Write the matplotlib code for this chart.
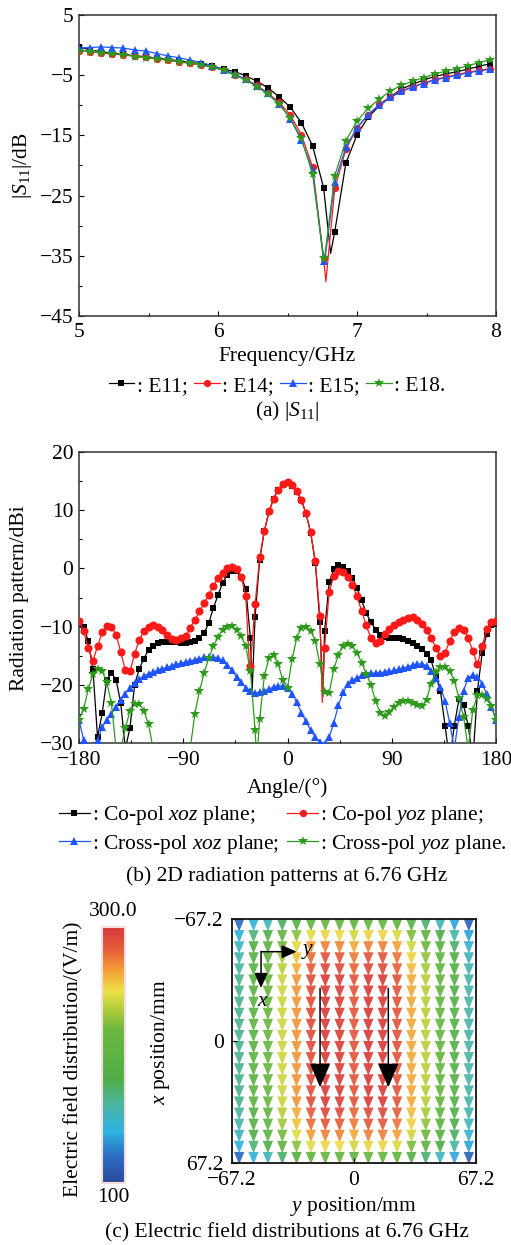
import numpy as np
import matplotlib
matplotlib.use("Agg")
import matplotlib.pyplot as plt
from matplotlib.lines import Line2D
from matplotlib.collections import PolyCollection
from matplotlib.colors import LinearSegmentedColormap, Normalize
from matplotlib.ticker import MultipleLocator

plt.rcParams['font.family'] = ['Liberation Serif', 'DejaVu Serif']
plt.rcParams['mathtext.fontset'] = 'custom'
plt.rcParams['mathtext.rm'] = 'Liberation Serif'
plt.rcParams['mathtext.it'] = 'Liberation Serif:italic'
plt.rcParams['font.size'] = 15.5

# ---- (a) |S11| data, markers every 0.08 GHz ----
freq = np.round(5.0 + 0.08 * np.arange(38), 2)
s11_e11 = [-0.3, -0.8, -1.1, -1.4, -1.5, -1.8, -1.9, -2.2, -2.4, -2.6,
           -2.9, -3.1, -3.5, -4.0, -4.4, -5.1, -6.0, -7.1, -8.6, -10.3,
           -12.9, -16.7, -23.7, -31.0, -19.6, -14.9, -12.0, -10.1, -8.6, -7.3,
           -6.5, -5.8, -5.2, -4.8, -4.4, -4.0, -3.5, -3.1]
s11_e14 = [-0.9, -1.1, -1.3, -1.5, -1.6, -1.8, -2.0, -2.3, -2.5, -2.8,
           -3.0, -3.3, -3.6, -4.2, -4.9, -5.7, -6.7, -8.0, -9.5, -11.6,
           -14.9, -20.2, -35.4, -23.8, -17.3, -13.8, -11.6, -9.8, -8.6, -7.6,
           -6.9, -6.3, -5.7, -5.3, -4.9, -4.5, -4.2, -3.9]
s11_e15 = [-0.5, -0.4, -0.3, -0.4, -0.5, -0.8, -1.0, -1.4, -1.8, -2.1,
           -2.5, -2.9, -3.4, -4.1, -4.8, -5.7, -6.8, -8.0, -9.8, -12.2,
           -15.8, -20.7, -35.9, -22.7, -17.0, -13.7, -11.6, -10.0, -8.7, -7.7,
           -7.0, -6.4, -5.8, -5.4, -5.0, -4.6, -4.3, -4.0]
s11_e18 = [-0.9, -1.1, -1.3, -1.5, -1.6, -1.9, -2.1, -2.3, -2.5, -2.8,
           -3.0, -3.3, -3.7, -4.2, -5.0, -5.8, -6.9, -8.2, -9.8, -12.1,
           -15.5, -21.4, -35.3, -21.7, -15.9, -12.6, -10.5, -9.0, -7.6, -6.7,
           -6.0, -5.4, -4.8, -4.3, -3.9, -3.4, -2.9, -2.4]
# resonance minima of the continuous curves (between markers)
s11_dips = [(6.81, -34.6), (6.776, -39.3), (6.765, -36.4), (6.763, -36.0)]
s11_names = ['E11', 'E14', 'E15', 'E18']

# ---- (b) radiation patterns, markers every 4 deg ----
angle = np.arange(-180, 181, 4)
co_xoz = [-9.5, -10.0, -12.5, -17.3, -29.0, -24.9, -19.1, -18.0, -19.1, -23.1,
          -31.0, -27.4, -20.0, -17.3, -15.5, -14.0, -13.3, -12.9, -12.7, -12.6,
          -12.6, -12.7, -12.8, -12.8, -12.7, -12.5, -11.9, -11.1, -9.4, -6.8,
          -4.6, -2.5, -1.1, -0.5, -0.5, -1.4, -3.5, -12.0, -8.3, 1.5,
          6.4, 9.7, 12.0, 13.5, 14.4, 14.7, 14.2, 13.2, 11.7, 9.4,
          6.1, 1.0, -9.2, -10.7, -2.4, -0.1, 0.5, 0.3, -0.5, -1.6,
          -3.4, -5.5, -7.7, -9.2, -10.5, -11.4, -11.8, -11.9, -11.9, -12.0,
          -12.2, -12.5, -12.9, -13.3, -13.9, -14.7, -15.8, -18.5, -21.0, -27.0,
          -33.0, -27.0, -22.5, -23.5, -27.0, -33.0, -21.0, -14.6, -11.2, -9.8,
          -9.5]
co_yoz = [-9.1, -10.8, -13.7, -15.9, -13.4, -11.0, -9.9, -10.0, -11.4, -14.3,
          -17.5, -17.7, -14.7, -12.3, -10.8, -10.0, -9.7, -10.0, -10.5, -11.4,
          -12.1, -12.3, -11.9, -11.7, -10.2, -8.8, -7.4, -6.0, -4.5, -3.1,
          -1.6, -0.8, 0.0, 0.3, -0.1, -1.4, -4.8, -16.8, -6.2, 1.9,
          6.5, 9.8, 12.0, 13.5, 14.5, 14.8, 14.3, 13.3, 11.8, 9.5,
          6.2, 1.2, -8.1, -13.6, -4.0, -1.3, -0.4, -0.7, -1.4, -2.9,
          -4.8, -7.3, -9.8, -12.0, -12.9, -12.5, -11.3, -10.4, -9.7, -9.2,
          -8.8, -8.5, -8.4, -8.8, -9.5, -10.5, -11.9, -13.6, -15.0, -14.5,
          -12.5, -10.9, -10.2, -10.5, -12.0, -14.2, -16.5, -13.4, -10.4, -9.2,
          -9.1]
cross_xoz = [-26.0, -29.5, -32.0, -31.0, -29.5, -27.3, -26.0, -25.0, -23.8, -22.6,
             -21.5, -20.5, -19.7, -19.0, -18.5, -18.1, -17.8, -17.5, -17.2, -17.0,
             -16.7, -16.5, -16.3, -16.1, -15.9, -15.7, -15.5, -15.3, -15.2, -15.2,
             -15.4, -15.8, -16.6, -17.5, -18.6, -19.6, -20.5, -21.1, -21.4, -21.3,
             -21.0, -20.7, -20.4, -20.2, -20.2, -20.6, -21.5, -23.0, -24.8, -26.3,
             -27.8, -29.0, -29.8, -30.1, -29.0, -26.5, -23.5, -21.3, -19.9, -19.2,
             -18.8, -18.4, -18.2, -18.0, -18.0, -17.9, -17.8, -17.7, -17.5, -17.3,
             -17.1, -16.9, -16.6, -16.4, -16.4, -16.7, -17.6, -18.8, -20.3, -22.8,
             -26.5, -31.0, -25.5, -21.0, -18.8, -18.3, -18.6, -19.8, -21.6, -23.8,
             -26.0]
cross_yoz = [-26.0, -24.2, -20.7, -18.2, -17.3, -17.7, -19.5, -23.2, -31.0, -31.0,
             -27.5, -24.5, -23.3, -23.3, -24.5, -26.8, -31.0, -33.0, -35.0, -35.0,
             -35.0, -35.0, -34.0, -32.0, -31.0, -25.0, -21.1, -18.0, -15.4, -13.4,
             -11.8, -10.6, -10.0, -9.9, -10.6, -11.6, -13.4, -17.7, -27.8, -25.8,
             -18.5, -15.4, -14.9, -16.5, -19.2, -20.5, -15.6, -11.9, -10.2, -10.0,
             -10.7, -12.5, -16.5, -21.3, -21.4, -17.3, -14.8, -13.4, -13.0, -13.4,
             -14.5, -16.2, -18.1, -20.0, -22.8, -24.8, -25.4, -24.6, -23.8, -23.2,
             -22.8, -22.8, -23.1, -23.5, -23.7, -22.6, -19.8, -17.8, -17.0, -16.9,
             -17.6, -19.3, -22.3, -25.5, -31.0, -24.3, -21.8, -21.7, -22.5, -23.6,
             -26.0]
# nulls of the continuous curves (between markers)
pat_dips = [[(-30.5, -21.0), (30.5, -22.0)], [(-32.5, -18.0), (30.0, -23.0)],
            [], [(-26.5, -33.0)]]
pat_names = [': Co-pol $xoz$ plane;', ': Co-pol $yoz$ plane;',
             ': Cross-pol $xoz$ plane;', ': Cross-pol $yoz$ plane.']

# ---- (c) E-field magnitude (V/m), 17 columns (y) x 22 rows (x) ----
col_field = [165, 200, 215, 242, 268, 290, 298, 296, 286, 298, 298, 288, 264, 238, 212, 190, 160]
row_weight = [0.72, 0.85, 0.92, 0.96, 0.98, 1.0, 1.0, 1.0, 1.0, 1.0, 1.0,
              1.0, 1.0, 1.0, 1.0, 1.0, 1.0, 0.98, 0.96, 0.92, 0.85, 0.72]
field = np.clip(np.outer(row_weight, col_field), 100, 300)

colors = ['#000000', '#ff1a1a', '#1f55ff', '#2e9a1c']
markers = ['s', 'o', '^', '*']

W, H = 511, 1245
fig = plt.figure(figsize=(W / 100, H / 100), dpi=100)


def box(l, t, r, b):
    return [l / W, 1 - b / H, (r - l) / W, (b - t) / H]


def P(x, y):
    return (x / W, 1 - y / H)


def style_ax(ax):
    for s in ax.spines.values():
        s.set_linewidth(1.1)
        s.set_color('#333333')
    ax.tick_params(which='both', direction='in', top=False, right=False, width=0.8, pad=4)
    ax.tick_params(which='major', length=3.5)
    ax.tick_params(which='minor', length=2.5)


def with_dips(x, y, dips):
    xs = list(x) + [d[0] for d in dips]
    ys = list(y) + [d[1] for d in dips]
    order = np.argsort(xs, kind='stable')
    return np.array(xs)[order], np.array(ys)[order]


# ---------------- panel (a) ----------------
ax1 = fig.add_axes(box(79, 15, 496, 316))
ms_a = [5, 5.2, 5.6, 7.5]
handles = []
for i, ys in enumerate([s11_e11, s11_e14, s11_e15, s11_e18]):
    lx, ly = with_dips(freq, ys, [s11_dips[i]])
    ax1.plot(lx, ly, '-', color=colors[i], lw=0.9, zorder=2 + i)
    ax1.plot(freq, ys, ls='none', marker=markers[i], ms=ms_a[i], color=colors[i],
             mew=0, zorder=2 + i)
    handles.append(Line2D([], [], color=colors[i], lw=0.9, marker=markers[i],
                          ms=ms_a[i], mew=0))
ax1.set_xlim(5, 8)
ax1.set_ylim(-45, 5)
ax1.set_xticks([5, 6, 7, 8])
ax1.set_yticks([5, -5, -15, -25, -35, -45])
ax1.xaxis.set_minor_locator(MultipleLocator(0.5))
ax1.yaxis.set_minor_locator(MultipleLocator(5))
style_ax(ax1)
ax1.tick_params(axis='x', pad=5)
fig.text(*P(22, 166), '|$S_{11}$|/dB', rotation=90, ha='center', va='center')
fig.text(*P(287, 356), 'Frequency/GHz', ha='center', va='center')
fig.legend(handles, [': ' + n + ';' if k < 3 else ': ' + n + '.' for k, n in enumerate(s11_names)],
           ncol=4, loc='center', bbox_to_anchor=P(277, 386), frameon=False,
           handlelength=1.2, handletextpad=0.1, columnspacing=0.3,
           borderpad=0, fontsize=15.5)
fig.text(*P(287, 411), '(a) |$S_{11}$|', ha='center', va='center')

# ---------------- panel (b) ----------------
ax2 = fig.add_axes(box(79, 452, 496, 743))
ms_b = [5, 5.8, 5.8, 7.5]
series_b = [co_xoz, co_yoz, cross_xoz, cross_yoz]
handles_b = []
for i, ys in enumerate(series_b):
    lx, ly = with_dips(angle, ys, pat_dips[i])
    ax2.plot(lx, ly, '-', color=colors[i], lw=0.9, zorder=2 + i)
    ax2.plot(angle, ys, ls='none', marker=markers[i], ms=ms_b[i], color=colors[i],
             mew=0, zorder=2 + i)
    handles_b.append(Line2D([], [], color=colors[i], lw=0.9, marker=markers[i],
                            ms=ms_b[i] - 0.5, mew=0))
ax2.set_xlim(-180, 180)
ax2.set_ylim(-30, 20)
ax2.set_xticks([-180, -90, 0, 90, 180])
ax2.set_yticks([-30, -20, -10, 0, 10, 20])
ax2.xaxis.set_minor_locator(MultipleLocator(45))
ax2.yaxis.set_minor_locator(MultipleLocator(5))
style_ax(ax2)
ax2.tick_params(axis='x', pad=6)
fig.text(*P(20, 598), 'Radiation pattern/dBi', rotation=90, ha='center', va='center')
fig.text(*P(287, 788), 'Angle/(°)', ha='center', va='center')
order = [0, 2, 1, 3]
fig.legend([handles_b[k] for k in order], [pat_names[k] for k in order],
           ncol=2, loc='center', bbox_to_anchor=P(283, 830), frameon=False,
           handlelength=1.4, handletextpad=0.1, columnspacing=0.4,
           labelspacing=0.25, borderpad=0, fontsize=15.5)
fig.text(*P(287, 876), '(b) 2D radiation patterns at 6.76 GHz', ha='center', va='center')

# ---------------- panel (c) ----------------
cmap = LinearSegmentedColormap.from_list('efield', [
    (0.0, '#2c4a9e'), (0.1, '#2d6cc0'), (0.2, '#2fb2e2'), (0.3, '#4bb6a6'),
    (0.4, '#4fae4a'), (0.6, '#6cb83e'), (0.69, '#b9d03c'), (0.75, '#efe246'),
    (0.83, '#f4a037'), (0.91, '#e8603a'), (1.0, '#d63a3c')])
norm = Normalize(100, 300)

cax = fig.add_axes(box(102, 927, 125, 1183))
grad = np.linspace(300, 100, 256).reshape(-1, 1)
cax.imshow(grad, cmap=cmap, norm=norm, aspect='auto', extent=(0, 1, 100, 300))
cax.set_xticks([])
cax.set_yticks([])
for s in cax.spines.values():
    s.set_color('#f4dede')
    s.set_linewidth(1.5)
fig.text(*P(113, 912), '300.0', ha='center', va='center')
fig.text(*P(113, 1197), '100', ha='center', va='center')
fig.text(*P(74, 1059), 'Electric field distribution/(V/m)', rotation=90,
         ha='center', va='center')

ax3 = fig.add_axes(box(232, 919, 476, 1163))
L = 67.2
ncol, nrow = len(col_field), len(row_weight)
cw, ch = 2 * L / ncol, 2 * L / nrow
polys, fcols = [], []
for r in range(nrow):
    xc = -L + (r + 0.5) * ch
    for c in range(ncol):
        yc = -L + (c + 0.5) * cw
        polys.append([(yc - 0.36 * cw, xc - 0.5 * ch), (yc + 0.36 * cw, xc - 0.5 * ch),
                      (yc, xc + 0.62 * ch)])
        fcols.append(cmap(norm(field[r, c])))
ax3.add_collection(PolyCollection(polys, facecolors=fcols, edgecolors='none', alpha=0.92))
ax3.set_xlim(-L, L)
ax3.set_ylim(L, -L)
ax3.set_xticks([-L, 0, L])
ax3.set_xticklabels(['\u221267.2', '0', '67.2'])
ax3.set_yticks([-L, 0, L])
ax3.set_yticklabels(['\u221267.2', '0', '67.2'])
style_ax(ax3)
ax3.tick_params(pad=6)
for s in ax3.spines.values():
    s.set_color('#111111')
    s.set_linewidth(1.3)

# field direction arrows
for yy in (-18.7, 18.9):
    ax3.annotate('', xy=(yy, 25.5), xytext=(yy, -29.0),
                 arrowprops=dict(arrowstyle='-|>,head_length=0.75,head_width=0.32',
                                 mutation_scale=20, lw=1.1, color='k',
                                 shrinkA=0, shrinkB=0))
# local coordinate system
ox, oy = -51.2, -49.2
ax3.annotate('', xy=(-31.6, oy), xytext=(ox, oy),
             arrowprops=dict(arrowstyle='-|>,head_length=0.9,head_width=0.4',
                             mutation_scale=10, lw=1.1, color='k', shrinkA=0, shrinkB=0))
ax3.annotate('', xy=(ox, -29.2), xytext=(ox, oy),
             arrowprops=dict(arrowstyle='-|>,head_length=0.9,head_width=0.4',
                             mutation_scale=10, lw=1.1, color='k', shrinkA=0, shrinkB=0))
ax3.text(-25.5, oy, '$y$', ha='center', va='center', fontsize=15.5)
ax3.text(ox + 1, -22.0, '$x$', ha='center', va='center', fontsize=15.5)

fig.text(*P(160, 1042), '$x$ position/mm', rotation=90, ha='center', va='center')
fig.text(*P(354, 1207), '$y$ position/mm', ha='center', va='center')
fig.text(*P(287, 1233), '(c) Electric field distributions at 6.76 GHz', ha='center', va='center')

fig.savefig('out.png', dpi=100)
